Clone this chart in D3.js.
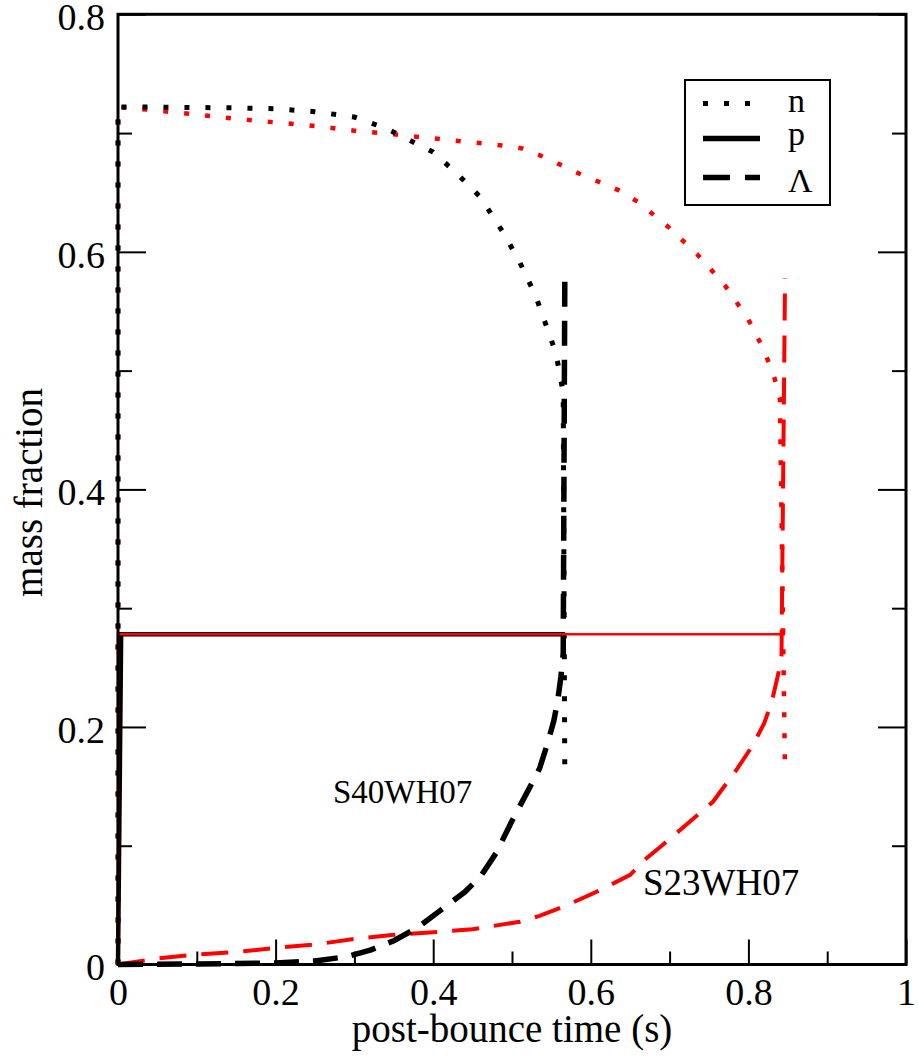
<!DOCTYPE html>
<html>
<head>
<meta charset="utf-8">
<script src="https://cdn.jsdelivr.net/npm/d3@7"></script>
<style>
  body { margin: 0; background: #fff; }
</style>
</head>
<body>
<div id="grafico"></div>
<script>
// dados: [tempo (s), fração de massa]
const nS40 = [[0,0],[0,0.722],[0.05,0.7218],[0.1,0.7215],[0.15,0.7212],[0.2,0.7205],[0.25,0.718],[0.3,0.7135],
  [0.34,0.704],[0.37,0.694],[0.4,0.684],[0.43,0.666],[0.46,0.646],[0.49,0.615],[0.51,0.591],[0.53,0.563],
  [0.545,0.535],[0.555,0.516],[0.561,0.497],[0.565,0.48],[0.567,0.16]];
const pS40 = [[0,0],[0.004,0.278],[0.567,0.278]];
const lS40 = [[0,0],[0.1,0.0005],[0.2,0.0012],[0.25,0.003],[0.29,0.0066],[0.32,0.012],[0.35,0.02],[0.38,0.031],
  [0.41,0.046],[0.44,0.061],[0.46,0.074],[0.48,0.094],[0.5,0.121],[0.52,0.146],[0.535,0.165],[0.545,0.186],
  [0.553,0.205],[0.558,0.222],[0.562,0.242],[0.565,0.262],[0.567,0.575]];

const nS23 = [[0,0],[0,0.722],[0.05,0.719],[0.1,0.7155],[0.15,0.712],[0.2,0.709],[0.25,0.706],[0.3,0.702],
  [0.35,0.699],[0.4,0.6955],[0.45,0.6922],[0.5,0.6886],[0.513,0.687],[0.54,0.68],[0.585,0.666],[0.635,0.652],
  [0.66,0.642],[0.7,0.62],[0.735,0.598],[0.77,0.572],[0.8,0.543],[0.82,0.517],[0.833,0.494],[0.84,0.476],[0.8465,0.16]];
const pS23 = [[0,0],[0,0.278],[0.8465,0.278]];
const lS23 = [[0,0],[0.05,0.005],[0.1,0.0085],[0.15,0.0105],[0.2,0.014],[0.25,0.0168],[0.3,0.0215],[0.35,0.025],
  [0.4,0.0272],[0.45,0.0297],[0.51,0.036],[0.535,0.041],[0.57,0.05],[0.61,0.062],[0.65,0.0755],[0.67,0.089],
  [0.69,0.1],[0.72,0.117],[0.755,0.137],[0.785,0.164],[0.805,0.184],[0.82,0.203],[0.83,0.222],[0.838,0.245],
  [0.842,0.26],[0.8465,0.578]];

const ticksX = [0, 0.2, 0.4, 0.6, 0.8, 1];
const ticksXmenor = [0.1, 0.3, 0.5, 0.7, 0.9];
const ticksY = [0, 0.2, 0.4, 0.6, 0.8];
const ticksYmenor = [0.1, 0.3, 0.5, 0.7];
const legenda = ["n", "p", "\u039B"];

// medidas
const largura = 918, altura = 1061;
const esq = 118, dir = 906, sup = 14.3, inf = 964.5;
const fonte = "Liberation Serif";

const svg = d3.select("#grafico").append("svg")
  .attr("width", largura).attr("height", altura)
  .attr("viewBox", [0, 0, largura, altura])
  .attr("font-family", fonte);

const escala_x = d3.scaleLinear([0, 1], [esq, dir]);
const escala_y = d3.scaleLinear([0, 0.8], [inf, sup]);
const linha = d3.line().x(d => escala_x(d[0])).y(d => escala_y(d[1]));

function curva(dados, cor, dash, w) {
  svg.append("path")
    .datum(dados)
    .attr("d", linha)
    .attr("fill", "none")
    .attr("stroke", cor)
    .attr("stroke-width", w)
    .attr("stroke-dasharray", dash)
    .attr("stroke-linecap", "butt")
    .attr("stroke-linejoin", "miter");
}

// curvas
curva(nS23, "#ff0000", "5,16", 4.5);
curva(lS23, "#ff0000", "27,15", 4);
curva(nS40, "#000", "5,16", 5);
curva(lS40, "#000", "25,14", 5.5);
curva(pS40, "#000", null, 4.5);
curva(pS23, "#ff0000", null, 2.5);

// eixos
const fmt = d => d === 0 ? "0" : d === 1 ? "1" : d3.format(".1f")(d);

svg.append("g")
  .attr("class", "eixo_x")
  .attr("transform", `translate(0,${inf})`)
  .call(d3.axisBottom(escala_x).tickValues(ticksX).tickFormat(fmt).tickSizeInner(-25).tickSizeOuter(0).tickPadding(12))
  .attr("font-family", fonte)
  .call(g => g.select(".domain").remove())
  .call(g => g.selectAll(".tick line").attr("stroke-width", 2))
  .call(g => g.selectAll("text").attr("font-size", 38).attr("dy", "0.76em"));

svg.append("g")
  .attr("transform", `translate(0,${inf})`)
  .call(d3.axisBottom(escala_x).tickValues(ticksXmenor).tickFormat("").tickSizeInner(-13).tickSizeOuter(0))
  .call(g => g.select(".domain").remove())
  .call(g => g.selectAll(".tick line").attr("stroke-width", 2));

svg.append("g")
  .attr("class", "eixo_y")
  .attr("transform", `translate(${esq},0)`)
  .call(d3.axisLeft(escala_y).tickValues(ticksY).tickFormat(fmt).tickSizeInner(-28).tickSizeOuter(0).tickPadding(13))
  .attr("font-family", fonte)
  .call(g => g.select(".domain").remove())
  .call(g => g.selectAll(".tick line").attr("stroke-width", 2))
  .call(g => g.selectAll("text").attr("font-size", 38).attr("dy", "0.4em"));

svg.append("g")
  .attr("transform", `translate(${esq},0)`)
  .call(d3.axisLeft(escala_y).tickValues(ticksYmenor).tickFormat("").tickSizeInner(-14).tickSizeOuter(0))
  .call(g => g.select(".domain").remove())
  .call(g => g.selectAll(".tick line").attr("stroke-width", 2));

svg.append("g")
  .attr("transform", `translate(${dir},0)`)
  .call(d3.axisRight(escala_y).tickValues(ticksY).tickFormat("").tickSizeInner(-28).tickSizeOuter(0))
  .call(g => g.select(".domain").remove())
  .call(g => g.selectAll(".tick line").attr("stroke-width", 2));

svg.append("g")
  .attr("transform", `translate(${dir},0)`)
  .call(d3.axisRight(escala_y).tickValues(ticksYmenor).tickFormat("").tickSizeInner(-14).tickSizeOuter(0))
  .call(g => g.select(".domain").remove())
  .call(g => g.selectAll(".tick line").attr("stroke-width", 2));

// moldura
svg.append("rect")
  .attr("x", esq).attr("y", sup)
  .attr("width", dir - esq).attr("height", inf - sup)
  .attr("fill", "none").attr("stroke", "#000").attr("stroke-width", 3);

// títulos dos eixos
svg.append("text")
  .attr("x", (esq + dir) / 2).attr("y", 1042)
  .attr("text-anchor", "middle").attr("font-size", 39)
  .text("post-bounce time (s)");

svg.append("text")
  .attr("transform", `translate(42,${(sup + inf) / 2 + 3}) rotate(-90)`)
  .attr("text-anchor", "middle").attr("font-size", 39)
  .text("mass fraction");

// rótulos dos modelos
svg.append("text").attr("x", 333).attr("y", 803).attr("font-size", 33).text("S40WH07");
svg.append("text").attr("x", 643).attr("y", 895).attr("font-size", 37).text("S23WH07");

// legenda
const leg = svg.append("g").attr("class", "legenda");
leg.append("rect")
  .attr("x", 685).attr("y", 80).attr("width", 145).attr("height", 125)
  .attr("fill", "#fff").attr("stroke", "#000").attr("stroke-width", 2);

const ly = [103.5, 138.5, 177.5];
const lestilo = [{ dash: "5,16", w: 5 }, { dash: null, w: 5.5 }, { dash: "27,15", w: 5.5 }];
legenda.forEach((t, i) => {
  leg.append("line")
    .attr("x1", 703).attr("x2", 760).attr("y1", ly[i]).attr("y2", ly[i])
    .attr("stroke", "#000").attr("stroke-width", lestilo[i].w)
    .attr("stroke-dasharray", lestilo[i].dash);
  leg.append("text")
    .attr("x", 788).attr("y", [112, 145, 191.5][i])
    .attr("font-size", 34).text(t);
});
</script>
</body>
</html>
